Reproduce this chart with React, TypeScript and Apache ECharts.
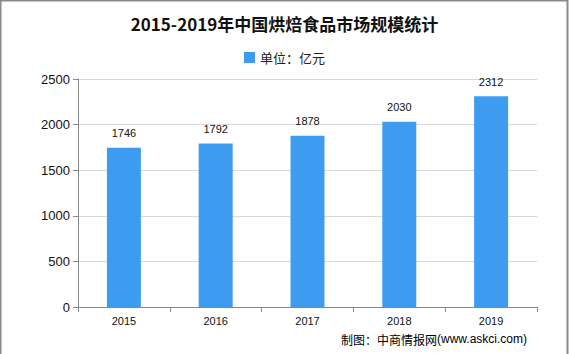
import React, { useEffect, useRef } from "react";
import * as echarts from "echarts";

const categories = ["2015", "2016", "2017", "2018", "2019"];
const values = [1746, 1792, 1878, 2030, 2312];
const seriesName = "单位：亿元";
const titleText = "2015-2019年中国烘焙食品市场规模统计";

export default function App() {
  const ref = useRef<HTMLDivElement>(null);
  useEffect(() => {
    if (!ref.current) return;
    const chart = echarts.init(ref.current, null, { renderer: "svg" });
    chart.setOption({
      animation: false,
      backgroundColor: "#ffffff",
      title: {
        text: titleText,
        left: "center",
        top: 10,
        textStyle: { fontSize: 17, fontWeight: "bold", color: "#111", fontFamily: "Noto Sans CJK SC" },
      },
      legend: {
        top: 46,
        left: "center",
        itemWidth: 11,
        itemHeight: 11,
        itemGap: 4,
        textStyle: { fontSize: 13, color: "#222", fontFamily: "Noto Sans CJK SC" },
        data: [{ name: seriesName, icon: "rect" }],
      },
      grid: { left: 78, right: 32, top: 79, bottom: 47 },
      xAxis: {
        type: "category",
        data: categories,
        axisLine: { lineStyle: { color: "#888", width: 1 } },
        axisTick: { show: true, length: 5, lineStyle: { color: "#888" } },
        axisLabel: { fontSize: 11, color: "#111", margin: 8, fontFamily: "Liberation Sans" },
      },
      yAxis: {
        type: "value",
        min: 0,
        max: 2500,
        interval: 500,
        axisLine: { show: true, lineStyle: { color: "#888", width: 1 } },
        axisTick: { show: true, length: 5, lineStyle: { color: "#888" } },
        splitLine: { lineStyle: { color: "#d9d9d9" } },
        axisLabel: {
          fontSize: 13,
          color: "#111",
          margin: 8,
          fontFamily: "Liberation Sans",
          formatter: (v: number) => String(v),
        },
      },
      series: [
        {
          name: seriesName,
          type: "bar",
          data: values,
          barWidth: "37%",
          itemStyle: { color: "#3d9cf0" },
          label: {
            show: true,
            position: "top",
            distance: 9,
            fontSize: 11,
            color: "#111",
            fontFamily: "Liberation Sans",
          },
        },
      ],
      graphic: [
        {
          type: "rect",
          shape: { x: 0.5, y: 0.5, width: 567, height: 360 },
          style: { fill: "none", stroke: "#8a8a8a", lineWidth: 2 },
          silent: true,
        },
        {
          type: "text",
          right: 42,
          top: 333,
          style: {
            text: "{a|制图：中商情报网}{b|(www.askci.com)}",
            rich: {
              a: { fontSize: 12, color: "#111", fontFamily: "Noto Sans CJK SC" },
              b: { fontSize: 12, color: "#1f3b8f", fontFamily: "Liberation Sans" },
            },
          },
        },
      ],
    });
    return () => chart.dispose();
  }, []);
  return <div ref={ref} style={{ position: "fixed", left: 0, top: 0, width: 569, height: 354 }} />;
}
